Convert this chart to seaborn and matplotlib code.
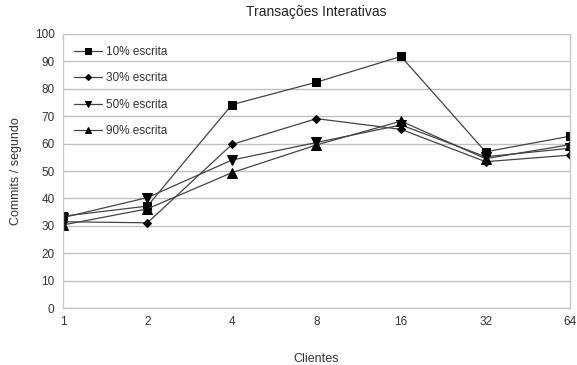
import matplotlib
matplotlib.use("Agg")
import matplotlib.pyplot as plt
import seaborn as sns
import pandas as pd

clientes = ["1", "2", "4", "8", "16", "32", "64"]
series_names = ["10% escrita", "30% escrita", "50% escrita", "90% escrita"]
v10 = [33.5, 37.2, 74.2, 82.4, 91.8, 57.0, 62.7]
v30 = [31.5, 31.1, 59.7, 69.1, 65.2, 53.4, 55.8]
v50 = [33.0, 40.3, 54.0, 60.4, 66.8, 55.2, 58.3]
v90 = [30.3, 36.2, 49.4, 59.5, 68.2, 54.5, 59.6]
y_ticks = [0, 10, 20, 30, 40, 50, 60, 70, 80, 90, 100]

rows = []
for name, vals in zip(series_names, [v10, v30, v50, v90]):
    for c, v in zip(clientes, vals):
        rows.append({"Clientes": c, "valor": v, "serie": name})
df = pd.DataFrame(rows)

sns.set_theme(style="white")
plt.rcParams["font.family"] = ["Liberation Sans", "DejaVu Sans"]

fig = plt.figure(figsize=(5.77, 3.65), dpi=100)
ax = fig.add_axes([0.109, 0.156, 0.879, 0.751])

markers = {"10% escrita": "s", "30% escrita": "D", "50% escrita": "v", "90% escrita": "^"}
sizes = {"10% escrita": 6, "30% escrita": 4.3, "50% escrita": 6.5, "90% escrita": 6.5}

for name in series_names:
    sub = df[df["serie"] == name]
    sns.lineplot(data=sub, x="Clientes", y="valor", ax=ax, color="#444444",
                 marker=markers[name], markersize=sizes[name],
                 markerfacecolor="black", markeredgecolor="black",
                 linewidth=0.9, label=name, sort=False)

ax.set_xlim(0, len(clientes) - 1)
ax.set_ylim(0, 100)
ax.set_yticks(y_ticks)
ax.yaxis.grid(True, color="#c0c0c0", linewidth=1)
ax.xaxis.grid(False)
ax.set_axisbelow(True)
for s in ["left", "bottom", "right"]:
    ax.spines[s].set_color("#c8c8c8")
    ax.spines[s].set_linewidth(1)
ax.spines["top"].set_visible(False)
ax.tick_params(axis="both", which="both", length=4, width=1, color="#c8c8c8",
               labelsize=8.5, labelcolor="#333333", direction="out", pad=2)
ax.set_xlabel("Clientes", fontsize=9, color="#333333", labelpad=18)
ax.set_ylabel("Commits / segundo", fontsize=9, color="#333333", labelpad=9)
ax.set_title("Transações Interativas", fontsize=10, color="#222222", pad=13)

leg = ax.legend(loc="upper left", bbox_to_anchor=(0.005, 0.985), frameon=False,
                fontsize=8.5, labelspacing=1.2, handlelength=2.4,
                handletextpad=0.3, borderaxespad=0.3, markerscale=0.72)
for t in leg.get_texts():
    t.set_color("#333333")

fig.savefig("out.png", dpi=100)
